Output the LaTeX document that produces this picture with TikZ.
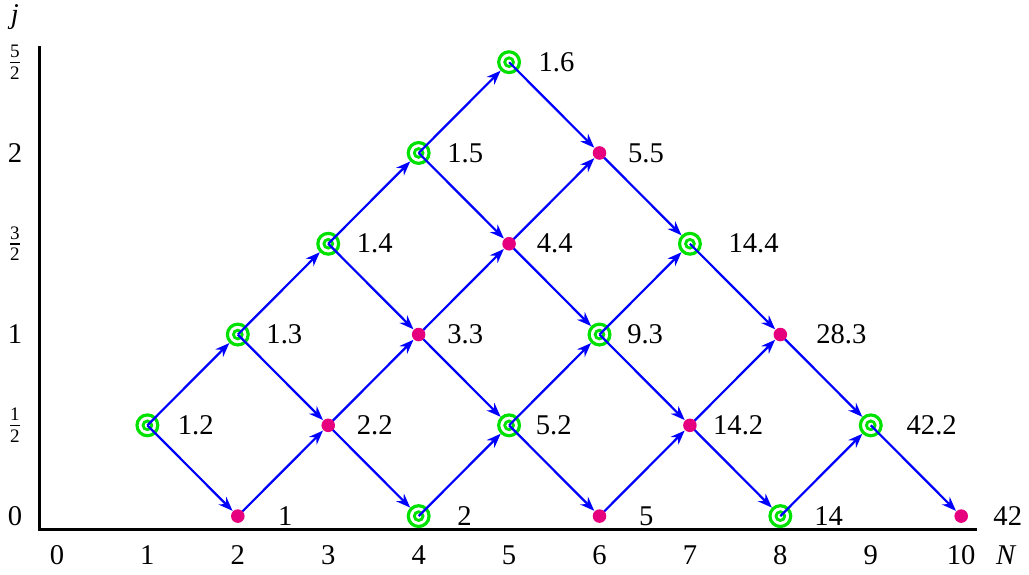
\documentclass[tikz,border=0pt]{standalone}
\usepackage{amsmath}
\usepackage{fontspec}
\setmainfont{Liberation Serif}
\usetikzlibrary{arrows.meta}
\definecolor{ringgreen}{RGB}{0,225,0}
\definecolor{dotpink}{RGB}{230,0,126}
\newcommand\halfof[1]{$\frac{\text{#1}}{\text{2}}$}

\begin{document}
\begin{tikzpicture}[x=1cm, y=1.004cm, font=\fontsize{9}{11}\selectfont,
  ring/.style={circle, draw=ringgreen, line width=1pt, minimum size=0.23cm, inner sep=0pt,
    path picture={\draw[ringgreen, line width=0.9pt] (path picture bounding box.center) circle (0.048cm);}},
  dot/.style={circle, minimum size=0.15cm, inner sep=0pt},
  link/.style={blue, line width=0.7pt, -{Stealth[length=4.5pt, width=3.4pt]}},
  value/.style={anchor=west, inner sep=0pt}]
  \useasboundingbox (-0.63,-0.64) rectangle (10.75,5.685);

  % axes
  \draw[line width=1pt] (-0.19,5.18) -- (-0.19,-0.15) -- (10.18,-0.15);
  \node (jlab) at (-0.465,5.5) {\textit{j}};
  \node (Nlab) at (10.5,-0.43) {\textit{N}};
  \foreach \N in {0,...,10}
    \node (tN-\N) at (\N,-0.43) {\N};
  \foreach \m/\t in {0/0, 1/\halfof{1}, 2/1, 3/\halfof{3}, 4/2, 5/\halfof{5}}
    \node (tj-\m) at (-0.465,\m) {\t};

  % open rings
  \foreach \N/\m/\v/\d in {1/1/1.2/0.33, 2/2/1.3/0.31, 3/3/1.4/0.31, 4/0/2/0.42,
      4/4/1.5/0.31, 5/1/5.2/0.29, 5/5/1.6/0.32, 6/2/9.3/0.30, 7/3/14.4/0.42,
      8/0/14/0.37, 9/1/42.2/0.39}{
    \node[ring] (n-\N-\m) at (\N,\m) {};
    \node[value] (v-\N-\m) at ([xshift=\d cm]\N,\m) {\v};
  }

  % full dots
  \foreach \N/\m/\v/\d in {2/0/1/0.44, 3/1/2.2/0.31, 4/2/3.3/0.31, 5/3/4.4/0.30,
      6/0/5/0.43, 6/4/5.5/0.31, 7/1/14.2/0.25, 8/2/28.3/0.39, 10/0/42/0.35}{
    \node[dot] (n-\N-\m) at (\N,\m) {};
    \node[value] (v-\N-\m) at ([xshift=\d cm]\N,\m) {\v};
  }

  % links
  \foreach \N/\m in {1/1, 2/0, 2/2, 3/1, 3/3, 4/0, 4/2, 4/4, 5/1, 5/3, 5/5,
      6/0, 6/2, 6/4, 7/1, 7/3, 8/0, 8/2, 9/1}{
    \pgfmathtruncatemacro\Nn{\N+1}
    \pgfmathtruncatemacro\up{\m+1}
    \pgfmathtruncatemacro\dn{\m-1}
    \ifnum\numexpr\N+\m\relax<9 \draw[link] (n-\N-\m.center) -- (n-\Nn-\up); \fi
    \ifnum\m>0 \draw[link] (n-\N-\m.center) -- (n-\Nn-\dn); \fi
  }

  \foreach \n in {n-2-0, n-3-1, n-4-2, n-5-3, n-6-0, n-6-4, n-7-1, n-8-2, n-10-0}
    \fill[dotpink] (\n) circle (0.075cm);
\end{tikzpicture}
\end{document}
